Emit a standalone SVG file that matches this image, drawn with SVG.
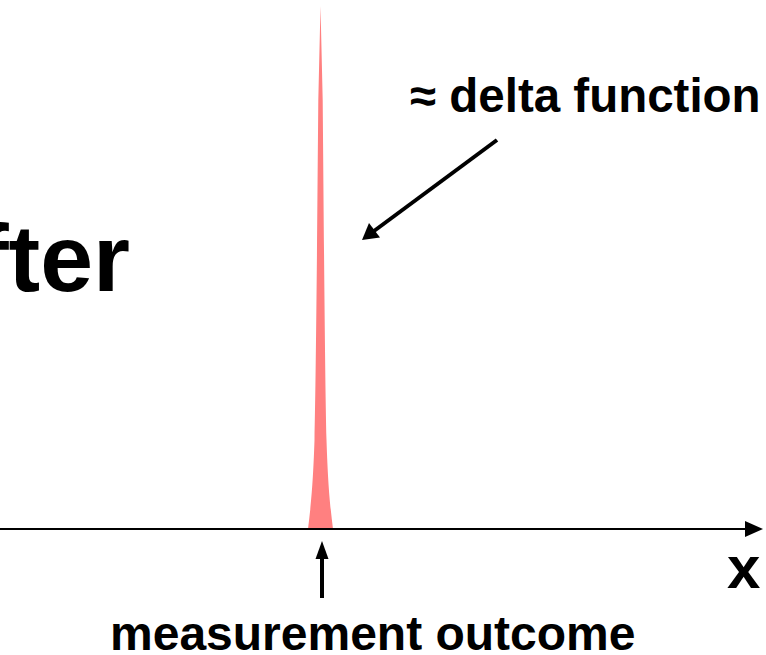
<svg xmlns="http://www.w3.org/2000/svg" width="766" height="655" viewBox="0 0 766 655">
<style>
text{font-family:"Liberation Sans",Arial,sans-serif;font-weight:bold;fill:#000}
.ln{stroke:#000;fill:none}
</style>
<rect width="766" height="655" fill="#fff"/>
<g id="title"><text x="130" y="291" font-size="95" text-anchor="end">After</text></g>
<g id="peak"><path d="M308,529 C311,505 313,485 314.5,440 C316,380 317,250 318.3,100 L320.5,6 L322.7,100 C324,250 325,380 326.5,440 C328,485 330,505 333,529 Z" fill="#FF8080"/></g>
<g id="connectors">
<line class="ln" x1="0" y1="529" x2="748" y2="529" stroke-width="2"/>
<path d="M745,521 L763,529 L745,537 Z" fill="#000"/>
<line class="ln" x1="322" y1="598" x2="322" y2="556" stroke-width="4"/>
<path d="M315.5,559 L322,541 L328.5,559 Z" fill="#000"/>
<line class="ln" x1="497" y1="140" x2="374" y2="231" stroke-width="4"/>
<path d="M362,240 L369,223 L380,237.5 Z" fill="#000"/>
</g>
<g id="label-delta"><text x="410" y="112" font-size="47.5">≈ delta function</text></g>
<g id="label-x"><text x="727" y="588" font-size="60">x</text></g>
<g id="label-outcome"><text x="110" y="650" font-size="48">measurement outcome</text></g>
</svg>
